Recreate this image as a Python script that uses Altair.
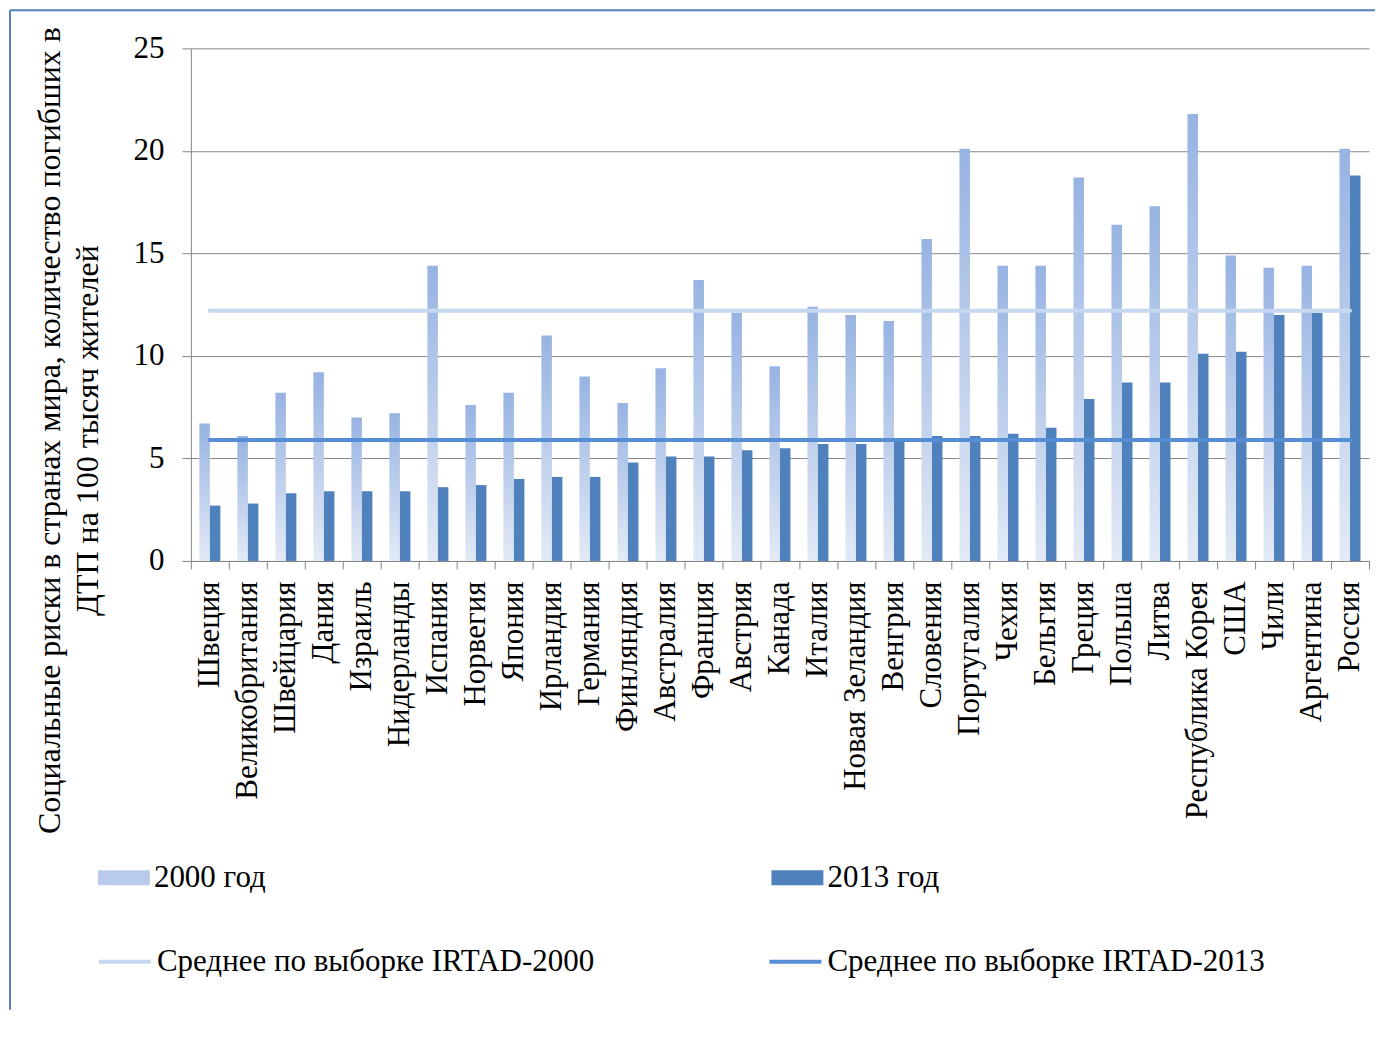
import altair as alt
import pandas as pd

countries = ["Швеция", "Великобритания", "Швейцария", "Дания", "Израиль", "Нидерланды",
             "Испания", "Норвегия", "Япония", "Ирландия", "Германия", "Финляндия",
             "Австралия", "Франция", "Австрия", "Канада", "Италия", "Новая Зеландия",
             "Венгрия", "Словения", "Португалия", "Чехия", "Бельгия", "Греция", "Польша",
             "Литва", "Республика Корея", "США", "Чили", "Аргентина", "Россия"]
risk_2000 = [6.7, 6.1, 8.2, 9.2, 7.0, 7.2, 14.4, 7.6, 8.2, 11.0, 9.0, 7.7, 9.4, 13.7, 12.1,
             9.5, 12.4, 12.0, 11.7, 15.7, 20.1, 14.4, 14.4, 18.7, 16.4, 17.3, 21.8, 14.9,
             14.3, 14.4, 20.1]
risk_2013 = [2.7, 2.8, 3.3, 3.4, 3.4, 3.4, 3.6, 3.7, 4.0, 4.1, 4.1, 4.8, 5.1, 5.1, 5.4,
             5.5, 5.7, 5.7, 5.9, 6.1, 6.1, 6.2, 6.5, 7.9, 8.7, 8.7, 10.1, 10.2, 12.0, 12.1,
             18.8]
mean_2000 = 12.2
mean_2013 = 5.9
bar_series = ["2000 год", "2013 год"]
line_series = ["Среднее по выборке IRTAD-2000", "Среднее по выборке IRTAD-2013"]
y_ticks = [0, 5, 10, 15, 20, 25]
y_title = ["Социальные риски в странах мира, количество погибших в",
           "ДТП на 100 тысяч жителей"]

n = len(countries)
bars_df = pd.DataFrame({
    "country": countries * 2,
    "series": [bar_series[0]] * n + [bar_series[1]] * n,
    "value": risk_2000 + risk_2013,
})
lines_df = pd.DataFrame({
    "country": countries * 2,
    "series": [line_series[0]] * n + [line_series[1]] * n,
    "value": [mean_2000] * n + [mean_2013] * n,
})

FONT = "Liberation Serif"
FS = 31
GRID = "#868686"

grad = alt.LinearGradient(
    gradient="linear",
    stops=[alt.GradientStop(color="#97B3E2", offset=0),
           alt.GradientStop(color="#E3EAF6", offset=1)],
    x1=0, x2=0, y1=0, y2=1,
)

x_axis = alt.Axis(title=None, labelAngle=270, labelAlign="right", labelBaseline="middle",
                  labelFont=FONT, labelFontSize=FS, labelColor="black", labelPadding=12,
                  labelLimit=500, tickBand="extent", tickSize=8, tickColor=GRID,
                  domainColor=GRID, grid=False, labelOverlap=False)
y_axis = alt.Axis(values=y_ticks, grid=True, gridColor=GRID, gridWidth=1,
                  domainColor=GRID, tickColor=GRID, tickSize=9,
                  labelFont=FONT, labelFontSize=FS, labelColor="black", labelPadding=18,
                  title=y_title, titleFont=FONT, titleFontSize=32, titleFontWeight="normal",
                  titleColor="black", titleLineHeight=38, titleX=-141, titleY=382,
                  titleAlign="center", titleBaseline="middle", titleAngle=270)

x_scale = alt.Scale(paddingInner=0, paddingOuter=0)
y_scale = alt.Scale(domain=[0, 25], nice=False, zero=True)

bars = alt.Chart(bars_df).mark_bar().encode(
    x=alt.X("country:N", sort=countries, scale=x_scale, axis=x_axis),
    xOffset=alt.XOffset("series:N", sort=bar_series,
                        scale=alt.Scale(paddingInner=0, paddingOuter=0.81)),
    y=alt.Y("value:Q", scale=y_scale, axis=y_axis),
    color=alt.condition(
        alt.datum.series == bar_series[0],
        alt.value(grad),
        alt.Color("series:N",
                  scale=alt.Scale(domain=bar_series, range=["#B9CBEB", "#4F81BD"]),
                  legend=alt.Legend(orient="none", legendX=-93, legendY=804,
                                    direction="horizontal", columns=2, columnPadding=505,
                                    title=None, symbolType="M-1,-0.29H1V0.29H-1Z",
                                    symbolSize=2704, symbolStrokeWidth=0,
                                    labelFont=FONT, labelFontSize=FS, labelColor="black",
                                    labelOffset=4, labelLimit=600)),
    ),
)

lines = alt.Chart(lines_df).mark_line(strokeWidth=4, strokeCap="round").encode(
    x=alt.X("country:N", sort=countries, scale=x_scale, axis=x_axis),
    y=alt.Y("value:Q", scale=y_scale, axis=y_axis),
    stroke=alt.Stroke("series:N",
                      scale=alt.Scale(domain=line_series, range=["#C6D7F0", "#558ED5"]),
                      legend=alt.Legend(orient="none", legendX=-94, legendY=886,
                                        direction="horizontal", columns=2, columnPadding=167,
                                        title=None, symbolType="stroke", symbolSize=2704,
                                        symbolStrokeWidth=4,
                                        labelFont=FONT, labelFontSize=FS, labelColor="black",
                                        labelOffset=4, labelLimit=800)),
)

frame_df = pd.DataFrame({"k": [0]})
frame_top = alt.Chart(frame_df).mark_rule(color="#4F81BD", strokeWidth=2).encode(
    x=alt.value(-181), x2=alt.value(1185), y=alt.value(-38))
frame_left = alt.Chart(frame_df).mark_rule(color="#4F81BD", strokeWidth=2).encode(
    x=alt.value(-181), y=alt.value(-38), y2=alt.value(962))

chart = alt.layer(bars, lines, frame_top, frame_left).properties(
    width=1179, height=513,
    padding={"left": 1, "top": 1, "right": 0, "bottom": 0},
).configure_view(stroke=None)

chart.save("out.html", embed_options={"renderer": "svg", "actions": False})
